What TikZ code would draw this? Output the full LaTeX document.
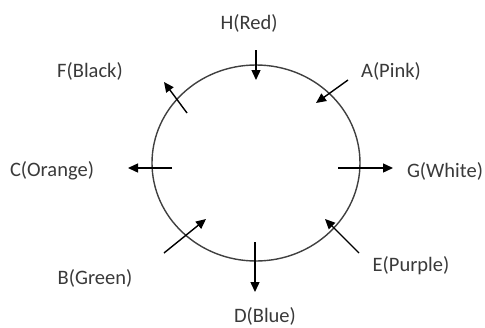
\documentclass[tikz,border=0pt]{standalone}
\usepackage{fontspec}
\setmainfont{Carlito}
\usetikzlibrary{arrows.meta,shapes.geometric}
\definecolor{txt}{HTML}{3A3A3A}
\definecolor{ringc}{HTML}{404040}
\begin{document}
\begin{tikzpicture}[x=1pt,y=-1pt,
  lbl/.style={inner sep=0pt,text=txt,font=\fontsize{20.5}{24}\selectfont},
  arr/.style={line width=1.4pt,draw=black,-{Triangle[length=10pt,width=9pt]}}]
\useasboundingbox (0,0) rectangle (485,327);
\fill[white] (0,0) rectangle (485,327);
\node[draw=ringc,line width=1.4pt,ellipse,inner sep=0pt,minimum width=208pt,minimum height=196pt] (ring) at (256,163) {};
% labels
\node[lbl] (H) at (249,23) {H(Red)};
\node[lbl] (F) at (90,71) {F(Black)};
\node[lbl] (A) at (391,71) {A(Pink)};
\node[lbl] (C) at (52,171) {C(Orange)};
\node[lbl] (G) at (445,171) {G(White)};
\node[lbl] (B) at (95,278) {B(Green)};
\node[lbl] (E) at (411,266) {E(Purple)};
\node[lbl] (D) at (265,316) {D(Blue)};
% arrow ends
\coordinate (h1) at (256,50);  \coordinate (h2) at (256,80);
\coordinate (a1) at (348,80);  \coordinate (a2) at (316,103);
\coordinate (f1) at (187,113); \coordinate (f2) at (164,82);
\coordinate (c1) at (172,168); \coordinate (c2) at (128,168);
\coordinate (g1) at (338,168); \coordinate (g2) at (393,168);
\coordinate (b1) at (164,253); \coordinate (b2) at (206,219);
\coordinate (d1) at (255,242); \coordinate (d2) at (255,292);
\coordinate (e1) at (359,253); \coordinate (e2) at (325,219);
\draw[arr] (h1) -- (h2);
\draw[arr] (a1) -- (a2);
\draw[arr] (f1) -- (f2);
\draw[arr] (c1) -- (c2);
\draw[arr] (g1) -- (g2);
\draw[arr] (b1) -- (b2);
\draw[arr] (d1) -- (d2);
\draw[arr] (e1) -- (e2);
\end{tikzpicture}
\end{document}
